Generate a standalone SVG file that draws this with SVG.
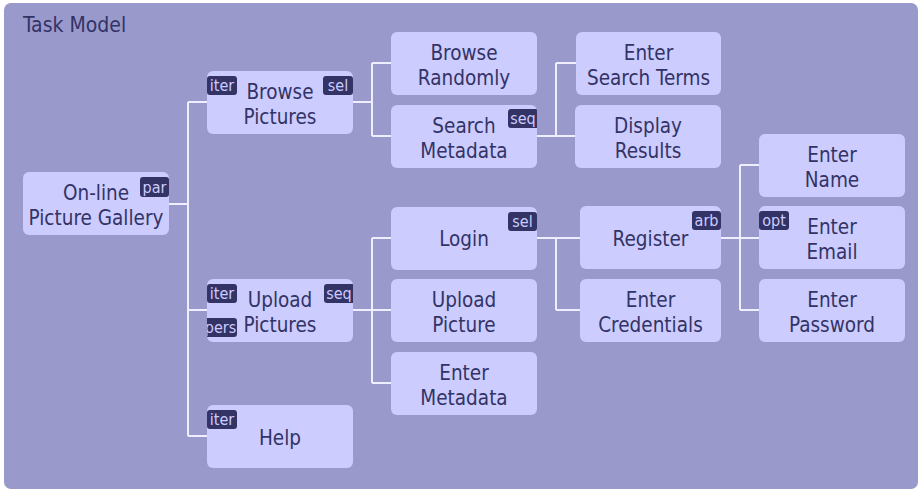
<svg xmlns="http://www.w3.org/2000/svg" width="922" height="490" viewBox="0 0 922 490">
<style>
.bg{fill:#9999cc}
.box{fill:#ccccff}
.lbl{font-family:"DejaVu Sans Condensed","DejaVu Sans",sans-serif;font-stretch:condensed;font-size:20.5px;fill:#333366;text-anchor:middle}
.title{font-family:"DejaVu Sans Condensed","DejaVu Sans",sans-serif;font-stretch:condensed;font-size:21px;fill:#333366}
.bdg{fill:#333366}
.bt{font-family:"DejaVu Sans Condensed","DejaVu Sans",sans-serif;font-stretch:condensed;font-size:16px;fill:#ccccff;text-anchor:middle}
.con{fill:none;stroke:#eeeeff;stroke-width:2}
</style>
<defs>
<clipPath id="clipSearch"><rect x="391" y="105" width="146" height="63" rx="6"/></clipPath>
<clipPath id="clipUpload"><rect x="207" y="279" width="146" height="63" rx="6"/></clipPath>
</defs>
<rect class="bg" x="4" y="3" width="914" height="486" rx="7"/>
<text class="title" x="23" y="32">Task Model</text>
<g id="connectors">
<path class="con" d="M169,204H188M188,102V436M188,102H207M188,310H207M188,436H207"/>
<path class="con" d="M353,102H372M372,63V136M372,63H391M372,136H391"/>
<path class="con" d="M537,136H556M556,63V136M556,63H576M556,136H575"/>
<path class="con" d="M353,310H372M372,238V383M372,238H391M372,310H391M372,383H391"/>
<path class="con" d="M537,238H556M556,238V310M556,238H580M556,310H580"/>
<path class="con" d="M721,238H740M740,165V310M740,165H759M740,238H759M740,310H759"/>
</g>
<g id="node-root">
<rect class="box" x="23" y="172" width="146" height="63" rx="6"/>
<rect class="bdg" x="140" y="177" width="29" height="20" rx="3"/><text class="bt" x="154.5" y="192.5">par</text>
<text class="lbl" x="96" y="199.5">On-line</text><text class="lbl" x="96" y="224.5">Picture Gallery</text>
</g>
<g id="node-browse-pictures">
<rect class="box" x="207" y="71" width="146" height="63" rx="6"/>
<rect class="bdg" x="207" y="76" width="30" height="19" rx="3"/><text class="bt" x="222" y="91">iter</text>
<rect class="bdg" x="323" y="76" width="30" height="19" rx="3"/><text class="bt" x="338" y="91">sel</text>
<text class="lbl" x="280" y="99">Browse</text><text class="lbl" x="280" y="124">Pictures</text>
</g>
<g id="node-browse-randomly">
<rect class="box" x="391" y="32" width="146" height="63" rx="6"/>
<text class="lbl" x="464" y="60">Browse</text><text class="lbl" x="464" y="85">Randomly</text>
</g>
<g id="node-search-metadata">
<rect class="box" x="391" y="105" width="146" height="63" rx="6"/>
<g clip-path="url(#clipSearch)"><rect class="bdg" x="508" y="109" width="34" height="19" rx="3"/><text class="bt" x="523" y="124">seq</text></g>
<text class="lbl" x="464" y="133">Search</text><text class="lbl" x="464" y="158">Metadata</text>
</g>
<g id="node-enter-search-terms">
<rect class="box" x="576" y="32" width="145" height="63" rx="6"/>
<text class="lbl" x="648.5" y="60">Enter</text><text class="lbl" x="648.5" y="85">Search Terms</text>
</g>
<g id="node-display-results">
<rect class="box" x="575" y="105" width="146" height="63" rx="6"/>
<text class="lbl" x="648" y="133">Display</text><text class="lbl" x="648" y="158">Results</text>
</g>
<g id="node-upload-pictures">
<rect class="box" x="207" y="279" width="146" height="63" rx="6"/>
<g clip-path="url(#clipUpload)">
<rect class="bdg" x="207" y="284" width="30" height="19" rx="3"/><text class="bt" x="222" y="299">iter</text>
<rect class="bdg" x="324" y="284" width="34" height="19" rx="3"/><text class="bt" x="339" y="299">seq</text>
<rect class="bdg" x="203" y="318" width="34" height="19" rx="3"/><text class="bt" x="220.5" y="333">pers</text>
</g>
<text class="lbl" x="280" y="307">Upload</text><text class="lbl" x="280" y="332">Pictures</text>
</g>
<g id="node-help">
<rect class="box" x="207" y="405" width="146" height="63" rx="6"/>
<rect class="bdg" x="207" y="410" width="30" height="19" rx="3"/><text class="bt" x="222" y="425">iter</text>
<text class="lbl" x="280" y="445">Help</text>
</g>
<g id="node-login">
<rect class="box" x="391" y="207" width="146" height="63" rx="6"/>
<rect class="bdg" x="508" y="212" width="29" height="19" rx="3"/><text class="bt" x="522.5" y="227">sel</text>
<text class="lbl" x="464" y="246">Login</text>
</g>
<g id="node-upload-picture">
<rect class="box" x="391" y="279" width="146" height="63" rx="6"/>
<text class="lbl" x="464" y="307">Upload</text><text class="lbl" x="464" y="332">Picture</text>
</g>
<g id="node-enter-metadata">
<rect class="box" x="391" y="352" width="146" height="63" rx="6"/>
<text class="lbl" x="464" y="380">Enter</text><text class="lbl" x="464" y="405">Metadata</text>
</g>
<g id="node-register">
<rect class="box" x="580" y="206" width="141" height="63" rx="6"/>
<rect class="bdg" x="692" y="211" width="29" height="19" rx="3"/><text class="bt" x="706.5" y="226">arb</text>
<text class="lbl" x="650.5" y="246">Register</text>
</g>
<g id="node-enter-credentials">
<rect class="box" x="580" y="279" width="141" height="63" rx="6"/>
<text class="lbl" x="650.5" y="307">Enter</text><text class="lbl" x="650.5" y="332">Credentials</text>
</g>
<g id="node-enter-name">
<rect class="box" x="759" y="134" width="146" height="63" rx="6"/>
<text class="lbl" x="832" y="162">Enter</text><text class="lbl" x="832" y="187">Name</text>
</g>
<g id="node-enter-email">
<rect class="box" x="759" y="206" width="146" height="63" rx="6"/>
<rect class="bdg" x="759" y="211" width="30" height="19" rx="3"/><text class="bt" x="774" y="226">opt</text>
<text class="lbl" x="832" y="234">Enter</text><text class="lbl" x="832" y="259">Email</text>
</g>
<g id="node-enter-password">
<rect class="box" x="759" y="279" width="146" height="63" rx="6"/>
<text class="lbl" x="832" y="307">Enter</text><text class="lbl" x="832" y="332">Password</text>
</g>
</svg>
